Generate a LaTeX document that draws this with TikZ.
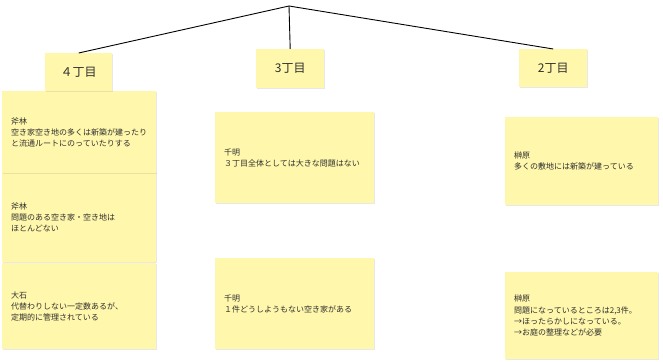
\documentclass[tikz,border=0pt]{standalone}
\usepackage{fontspec}
\setmainfont{Noto Sans CJK JP}
\usetikzlibrary{shadows}
\definecolor{stickyc}{HTML}{FFF7AB}
\definecolor{inkc}{HTML}{303030}
\tikzset{
  sticky/.style={anchor=north west, fill=stickyc, draw=none, text=inkc,
    drop shadow={opacity=0.18, shadow xshift=1pt, shadow yshift=-1.2pt},
    inner ysep=0pt, inner xsep=9pt, align=left,
    font=\fontsize{8}{11.2}\selectfont},
  headbox/.style={sticky, inner xsep=0pt, align=center,
    font=\fontsize{12}{14}\selectfont},
  conn/.style={draw=black, line width=0.9pt}
}
\begin{document}
\begin{tikzpicture}[x=1pt,y=-1pt]
\useasboundingbox (0,0) rectangle (663,361);
\coordinate (root) at (289,6);
% 4 chome column (drawn bottom first so upper shadows overlap)
\node[sticky, text width=136pt, minimum height=86pt] (a3) at (2,263) {大石\\代替わりしない一定数あるが、\\定期的に管理されている};
\node[sticky, text width=136pt, minimum height=90pt] (a2) at (2,172) {斧林\\問題のある空き家・空き地は\\ほとんどない};
\node[sticky, text width=136pt, minimum height=82pt] (a1) at (2,91) {斧林\\空き家空き地の多くは新築が建ったり\\と流通ルートにのっていたりする};
% headers
\node[headbox, minimum width=67pt, minimum height=38pt] (h4) at (45,53) {４丁目};
\node[headbox, minimum width=68pt, minimum height=39pt] (h3) at (256,49) {3丁目};
\node[headbox, minimum width=68pt, minimum height=38pt] (h2) at (519,49) {2丁目};
% 3 chome column
\node[sticky, text width=141pt, minimum height=91pt] (b1) at (215,112) {千明\\３丁目全体としては大きな問題はない};
\node[sticky, text width=141pt, minimum height=91pt] (b2) at (215,258) {千明\\１件どうしようもない空き家がある};
% 2 chome column
\node[sticky, text width=135pt, minimum height=88pt] (c1) at (505,117) {榊原\\多くの敷地には新築が建っている};
\node[sticky, text width=135pt, minimum height=87pt] (c2) at (505,272) {榊原\\問題になっているところは2,3件。\\→ほったらかしになっている。\\→お庭の整理などが必要};
% connectors
\draw[conn] (root) -- (h4.north);
\draw[conn] (root) -- (h3.north);
\draw[conn] (root) -- (h2.north);
\end{tikzpicture}
\end{document}
